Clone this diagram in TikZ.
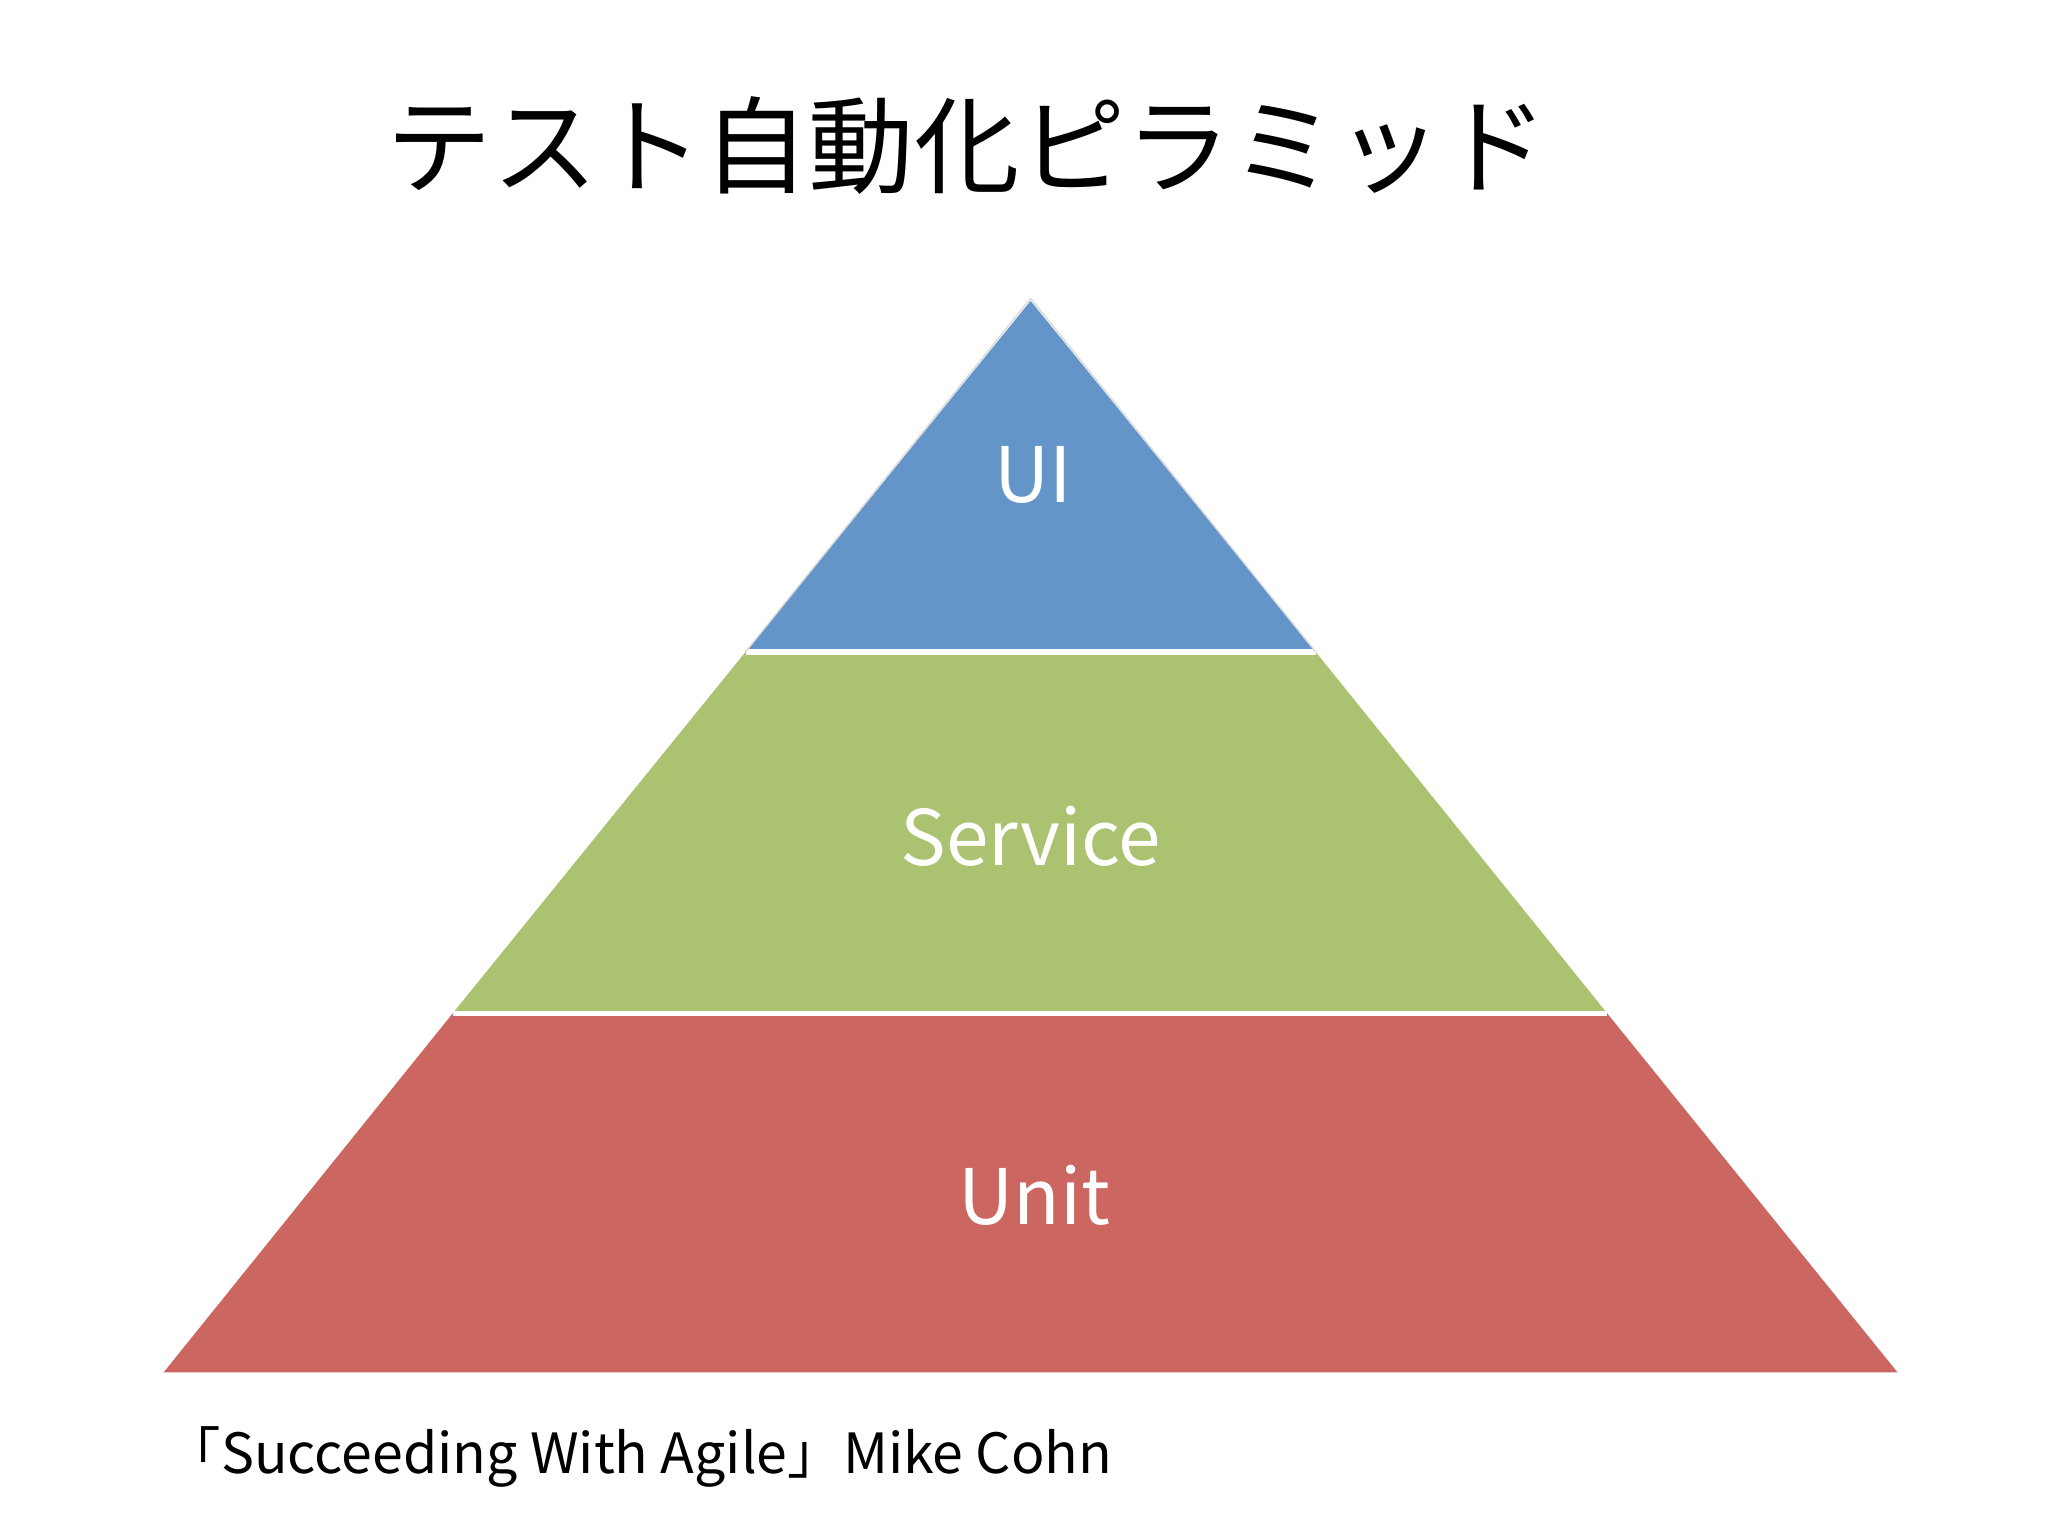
\documentclass[tikz,border=0pt]{standalone}
\usepackage{fontspec}
\setmainfont{Noto Sans CJK JP}
\newfontfamily\cjk{Noto Sans CJK JP}
\definecolor{uiblue}{HTML}{6495C9}
\definecolor{svgreen}{HTML}{ABC370}
\definecolor{unred}{HTML}{CC6661}
\begin{document}
\begin{tikzpicture}[x=1pt,y=-1pt,
  lbl/.style={text=white,font=\fontsize{58}{60}\selectfont}]
\useasboundingbox (0,0) rectangle (1552,1164);
\fill[white] (0,0) rectangle (1552,1164);
\fill[unred] (343,768) -- (1218,768) -- (1438,1040) -- (124,1040) -- cycle;
\fill[svgreen] (565,494) -- (997,494) -- (1218,768) -- (343,768) -- cycle;
\fill[uiblue] (781,228) -- (997,494) -- (565,494) -- cycle;
\draw[white,line width=4pt] (565,494) -- (997,494);
\draw[white,line width=4pt] (343,768) -- (1218,768);
\draw[white!85!black,line width=1pt] (781,226) -- (997,494) (565,494) -- (781,226);
\node (title) at (733,110) {\fontsize{80}{86}\selectfont テスト自動化ピラミッド};
\node[lbl] (ui) at (783,360) {UI};
\node[lbl] (sv) at (781,634) {Service};
\node[lbl] (un) at (784,906) {Unit};
\node[anchor=west,font=\fontsize{42}{46}\selectfont] (cite) at (122,1104) {「Succeeding With Agile」Mike Cohn};
\end{tikzpicture}
\end{document}
